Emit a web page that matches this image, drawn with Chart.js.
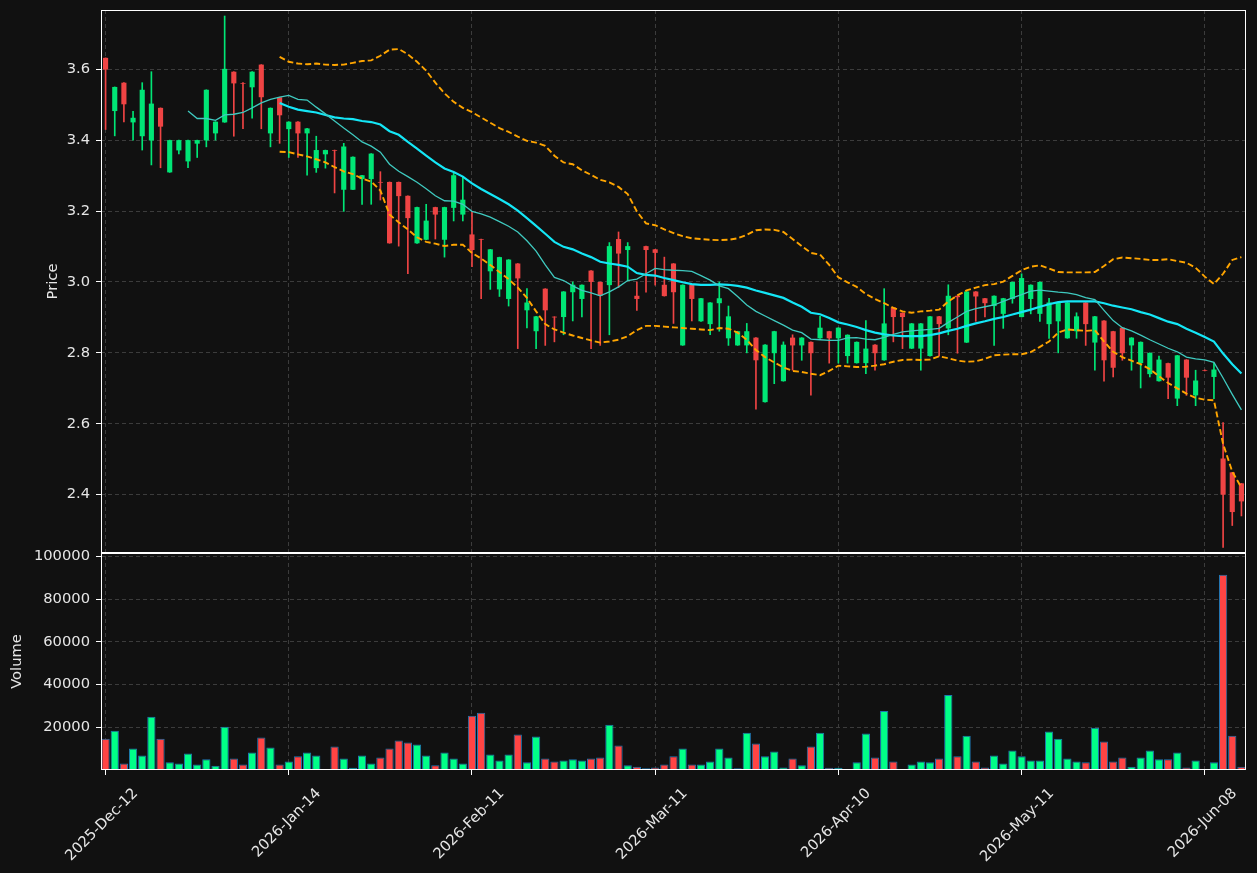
<!DOCTYPE html>
<html>
<head>
<meta charset="utf-8">
<script src="https://cdn.jsdelivr.net/npm/chart.js@4/dist/chart.umd.min.js"></script>
<style>
html,body{margin:0;padding:0;background:#111111;}
#wrap{width:1257px;height:873px;}
canvas{display:block;}
</style>
</head>
<body>
<div id="wrap"><canvas id="c" width="1257" height="873"></canvas></div>
<script>
// ---------- categories ----------
const dates = [
'2025-Dec-12','2025-Dec-15','2025-Dec-16','2025-Dec-17','2025-Dec-18','2025-Dec-19','2025-Dec-22','2025-Dec-23','2025-Dec-24','2025-Dec-29',
'2025-Dec-30','2025-Dec-31','2026-Jan-02','2026-Jan-05','2026-Jan-06','2026-Jan-07','2026-Jan-08','2026-Jan-09','2026-Jan-12','2026-Jan-13',
'2026-Jan-14','2026-Jan-15','2026-Jan-16','2026-Jan-19','2026-Jan-20','2026-Jan-21','2026-Jan-22','2026-Jan-23','2026-Jan-26','2026-Jan-27',
'2026-Jan-28','2026-Jan-29','2026-Jan-30','2026-Feb-02','2026-Feb-03','2026-Feb-04','2026-Feb-05','2026-Feb-06','2026-Feb-09','2026-Feb-10',
'2026-Feb-11','2026-Feb-12','2026-Feb-13','2026-Feb-16','2026-Feb-17','2026-Feb-18','2026-Feb-19','2026-Feb-20','2026-Feb-23','2026-Feb-24',
'2026-Feb-25','2026-Feb-26','2026-Feb-27','2026-Mar-02','2026-Mar-03','2026-Mar-04','2026-Mar-05','2026-Mar-06','2026-Mar-09','2026-Mar-10',
'2026-Mar-11','2026-Mar-12','2026-Mar-13','2026-Mar-16','2026-Mar-17','2026-Mar-18','2026-Mar-19','2026-Mar-20','2026-Mar-23','2026-Mar-24',
'2026-Mar-25','2026-Mar-26','2026-Mar-27','2026-Mar-30','2026-Mar-31','2026-Apr-01','2026-Apr-02','2026-Apr-07','2026-Apr-08','2026-Apr-09',
'2026-Apr-10','2026-Apr-13','2026-Apr-14','2026-Apr-15','2026-Apr-16','2026-Apr-17','2026-Apr-20','2026-Apr-21','2026-Apr-22','2026-Apr-23',
'2026-Apr-24','2026-Apr-27','2026-Apr-28','2026-Apr-29','2026-Apr-30','2026-May-04','2026-May-05','2026-May-06','2026-May-07','2026-May-08',
'2026-May-11','2026-May-12','2026-May-13','2026-May-14','2026-May-15','2026-May-18','2026-May-19','2026-May-20','2026-May-21','2026-May-22',
'2026-May-25','2026-May-26','2026-May-27','2026-May-28','2026-May-29','2026-Jun-01','2026-Jun-02','2026-Jun-03','2026-Jun-04','2026-Jun-05',
'2026-Jun-08','2026-Jun-09','2026-Jun-10','2026-Jun-11','2026-Jun-12'
];
const tickDates = ['2025-Dec-12','2026-Jan-14','2026-Feb-11','2026-Mar-11','2026-Apr-10','2026-May-11','2026-Jun-08'];
const priceTicks = [2.4, 2.6, 2.8, 3.0, 3.2, 3.4, 3.6];
const volumeTicks = [20000, 40000, 60000, 80000, 100000];

// ---------- price series ----------
const opens = [
3.632,3.482,3.562,3.450,3.411,3.399,3.491,3.309,3.371,3.340,
3.390,3.399,3.419,3.450,3.593,3.561,3.549,3.613,3.419,3.521,
3.431,3.452,3.419,3.321,3.360,3.372,3.260,3.260,3.290,3.290,
3.282,3.282,3.282,3.243,3.109,3.119,3.211,3.119,3.209,3.190,
3.134,3.121,3.030,2.979,2.952,3.052,2.920,2.861,2.981,2.902,
2.901,2.971,2.952,3.032,3.000,2.991,3.121,3.090,2.961,3.101,
3.092,2.992,3.052,2.821,2.992,2.889,2.881,2.940,2.841,2.821,
2.821,2.843,2.661,2.799,2.720,2.843,2.821,2.831,2.841,2.861,
2.841,2.791,2.771,2.771,2.823,2.779,2.928,2.913,2.812,2.812,
2.791,2.903,2.869,2.961,2.829,2.973,2.954,2.932,2.910,2.952,
2.901,2.952,2.910,2.881,2.889,2.841,2.861,2.942,2.829,2.891,
2.861,2.871,2.821,2.771,2.740,2.720,2.771,2.671,2.781,2.680,
2.751,2.732,2.502,2.463,2.432
];
const highs = [
3.632,3.550,3.562,3.481,3.562,3.593,3.491,3.400,3.400,3.400,
3.400,3.542,3.452,3.750,3.593,3.562,3.593,3.613,3.491,3.521,
3.452,3.452,3.433,3.411,3.372,3.372,3.391,3.353,3.301,3.362,
3.311,3.282,3.282,3.243,3.211,3.219,3.211,3.211,3.307,3.297,
3.199,3.121,3.092,3.070,3.063,3.052,2.981,2.903,2.981,2.902,
2.973,3.000,2.992,3.032,3.000,3.111,3.141,3.111,3.000,3.101,
3.092,3.070,3.052,2.992,2.992,2.954,2.942,3.000,2.932,2.861,
2.883,2.843,2.823,2.861,2.831,2.851,2.843,2.831,2.903,2.861,
2.871,2.851,2.831,2.891,2.823,2.981,2.928,2.913,2.883,2.883,
2.903,2.903,2.992,2.961,2.973,2.973,2.954,2.961,2.954,3.000,
3.023,2.992,3.000,2.954,2.942,2.942,2.913,2.942,2.903,2.891,
2.861,2.871,2.843,2.831,2.800,2.791,2.771,2.793,2.781,2.751,
2.752,2.771,2.603,2.463,2.432
];
const lows = [
3.430,3.412,3.451,3.400,3.372,3.330,3.322,3.309,3.361,3.322,
3.351,3.381,3.400,3.450,3.411,3.432,3.462,3.432,3.381,3.391,
3.351,3.351,3.301,3.309,3.321,3.251,3.199,3.260,3.219,3.219,
3.231,3.109,3.101,3.023,3.109,3.119,3.121,3.070,3.172,3.172,
3.043,2.953,2.979,2.959,2.932,2.812,2.870,2.812,2.821,2.831,
2.851,2.890,2.901,2.812,2.821,2.851,2.984,3.003,2.920,2.971,
2.991,2.960,2.883,2.821,2.890,2.889,2.851,2.861,2.821,2.821,
2.800,2.641,2.661,2.713,2.720,2.751,2.779,2.681,2.841,2.771,
2.771,2.771,2.771,2.741,2.751,2.779,2.831,2.812,2.812,2.751,
2.791,2.791,2.851,2.799,2.829,2.889,2.901,2.821,2.869,2.940,
2.901,2.910,2.889,2.841,2.800,2.841,2.841,2.821,2.751,2.720,
2.732,2.779,2.751,2.701,2.732,2.720,2.671,2.651,2.680,2.651,
2.749,2.671,2.251,2.313,2.340
];
const closes = [
3.599,3.550,3.501,3.463,3.542,3.503,3.438,3.400,3.400,3.400,
3.400,3.542,3.452,3.601,3.560,3.559,3.593,3.521,3.491,3.470,
3.452,3.419,3.433,3.372,3.372,3.370,3.382,3.353,3.301,3.362,
3.280,3.109,3.242,3.180,3.211,3.173,3.190,3.211,3.301,3.232,
3.090,3.119,3.092,3.070,3.063,3.010,2.942,2.903,2.920,2.900,
2.973,2.992,2.992,3.000,2.961,3.101,3.080,3.101,2.952,3.090,
3.082,2.960,2.971,2.992,2.952,2.954,2.942,2.954,2.903,2.861,
2.861,2.779,2.823,2.861,2.823,2.821,2.843,2.799,2.871,2.841,
2.871,2.851,2.831,2.812,2.799,2.883,2.901,2.901,2.883,2.883,
2.903,2.881,2.961,2.957,2.973,2.959,2.940,2.961,2.954,3.000,
3.011,2.992,3.000,2.942,2.942,2.942,2.903,2.881,2.903,2.779,
2.758,2.799,2.843,2.831,2.800,2.781,2.730,2.793,2.730,2.722,
2.749,2.753,2.400,2.351,2.381
];
const volumes = [
14700,18400,3100,10100,6800,25000,14700,3600,3100,7700,
2600,5000,2000,20300,5400,2600,8200,15200,10500,2600,
4000,6400,8200,6800,0,11000,5400,1100,6800,3100,
5900,10100,13800,12900,11900,6800,2200,8200,5400,3100,
25400,26800,7300,4500,7300,16600,3600,15700,5400,4000,
4500,5000,4500,5400,5900,21200,11500,2200,1500,800,
1200,2600,6400,10100,2600,2600,4000,10100,5900,800,
17500,12400,6400,8700,1200,5400,2200,11000,17500,1100,
1100,500,3600,17100,5900,27700,4000,300,2600,4000,
3600,5400,35200,6400,16100,4000,1200,6800,3100,9100,
6400,4500,4500,18000,14700,5400,4000,3600,19800,13300,
4000,5900,1500,5900,9100,5000,5000,8200,1200,4500,
0,3600,91500,16100,1500
];

// ---------- indicator lines ----------
const ma10 = [
null,null,null,null,null,null,null,null,null,
3.482,3.461,3.461,3.456,3.471,3.473,3.478,3.491,3.505,3.515,
3.521,3.526,3.515,3.513,3.493,3.474,3.454,3.434,3.415,3.395,
3.383,3.366,3.332,3.312,3.297,3.281,3.263,3.243,3.229,3.228,
3.219,3.199,3.192,3.183,3.170,3.157,3.141,3.116,3.087,3.048,
3.013,3.004,2.989,2.976,2.969,2.961,2.972,2.986,3.004,3.008,
3.023,3.038,3.035,3.033,3.032,3.030,3.018,3.005,2.989,2.981,
2.959,2.935,2.917,2.904,2.891,2.878,2.864,2.857,2.839,2.837,
2.835,2.835,2.842,2.843,2.839,2.837,2.844,2.852,2.859,2.862,
2.864,2.866,2.869,2.886,2.901,2.917,2.925,2.930,2.935,2.945,
2.955,2.964,2.974,2.977,2.974,2.971,2.969,2.964,2.956,2.950,
2.920,2.891,2.871,2.862,2.850,2.837,2.825,2.813,2.803,2.788,
2.783,2.780,2.773,2.729,2.683,2.639
];
const ma20 = [
null,null,null,null,null,null,null,null,null,null,
null,null,null,null,null,null,null,null,null,
3.505,3.494,3.486,3.482,3.478,3.471,3.464,3.461,3.459,3.454,
3.451,3.444,3.425,3.415,3.395,3.376,3.356,3.337,3.320,3.310,
3.297,3.278,3.262,3.248,3.234,3.219,3.201,3.180,3.158,3.136,
3.113,3.099,3.092,3.080,3.070,3.057,3.052,3.048,3.043,3.025,
3.020,3.018,3.011,3.005,2.999,2.994,2.992,2.992,2.993,2.992,
2.989,2.984,2.976,2.969,2.962,2.955,2.942,2.930,2.913,2.909,
2.898,2.886,2.880,2.873,2.864,2.857,2.852,2.849,2.847,2.847,
2.847,2.850,2.855,2.862,2.868,2.876,2.883,2.889,2.896,2.901,
2.908,2.915,2.922,2.930,2.937,2.943,2.945,2.945,2.945,2.945,
2.940,2.933,2.928,2.923,2.915,2.908,2.898,2.888,2.881,2.868,
2.857,2.845,2.832,2.798,2.768,2.742
];
const bbUpper = [
null,null,null,null,null,null,null,null,null,null,
null,null,null,null,null,null,null,null,null,
3.635,3.621,3.616,3.614,3.616,3.613,3.612,3.613,3.618,3.623,
3.625,3.638,3.655,3.657,3.642,3.621,3.596,3.562,3.532,3.508,
3.491,3.479,3.464,3.449,3.434,3.423,3.410,3.398,3.393,3.384,
3.356,3.337,3.332,3.315,3.302,3.288,3.281,3.268,3.248,3.199,
3.165,3.160,3.148,3.138,3.129,3.123,3.121,3.119,3.118,3.119,
3.123,3.133,3.146,3.148,3.147,3.141,3.121,3.101,3.082,3.077,
3.048,3.013,2.999,2.986,2.966,2.952,2.940,2.927,2.917,2.913,
2.917,2.919,2.922,2.945,2.962,2.976,2.984,2.991,2.994,3.001,
3.017,3.033,3.043,3.047,3.038,3.028,3.027,3.027,3.027,3.028,
3.045,3.064,3.069,3.067,3.065,3.062,3.062,3.064,3.059,3.054,
3.040,3.015,2.994,3.023,3.062,3.070
];
const bbLower = [
null,null,null,null,null,null,null,null,null,null,
null,null,null,null,null,null,null,null,null,
3.367,3.366,3.360,3.354,3.346,3.337,3.324,3.312,3.304,3.292,
3.283,3.258,3.190,3.168,3.148,3.126,3.113,3.108,3.101,3.105,
3.105,3.082,3.066,3.048,3.028,3.008,2.984,2.955,2.917,2.881,
2.866,2.857,2.849,2.842,2.835,2.829,2.832,2.837,2.847,2.864,
2.876,2.876,2.874,2.872,2.870,2.868,2.866,2.864,2.870,2.868,
2.857,2.837,2.808,2.788,2.773,2.759,2.749,2.746,2.741,2.737,
2.749,2.764,2.762,2.760,2.761,2.764,2.768,2.775,2.780,2.781,
2.780,2.781,2.790,2.785,2.778,2.775,2.776,2.783,2.793,2.795,
2.796,2.796,2.802,2.817,2.832,2.857,2.866,2.864,2.862,2.864,
2.832,2.803,2.788,2.778,2.768,2.754,2.734,2.715,2.700,2.685,
2.673,2.668,2.666,2.543,2.465,2.420
];

// ---------- styling ----------
const TXT = '#e6e6e6';
const GRID = '#3c3c3c';
const UP = '#00e676', DOWN = '#ef4444';
const VUP = '#00ff88', VDOWN = '#ff4444';
const FONT = {family: 'DejaVu Sans', size: 14.7};

const up = closes.map((c, i) => c >= opens[i]);
const candleColors = up.map(u => u ? UP : DOWN);
const volColors = up.map(u => u ? VUP : VDOWN);
const bodies = opens.map((o, i) => [o, closes[i]]);
const wicks = lows.map((l, i) => [l, highs[i]]);

const framePlugin = {
  id: 'frame',
  afterDraw(chart) {
    const {ctx, chartArea: a, scales} = chart;
    ctx.save();
    ctx.strokeStyle = '#ffffff';
    ctx.lineWidth = 1;
    [scales.y, scales.yv].forEach(s => {
      ctx.strokeRect(Math.round(a.left) + 0.5, Math.round(s.top) + 0.5,
        Math.round(a.right - a.left) - 1, Math.round(s.bottom - s.top) - 1);
    });
    ctx.restore();
  }
};

function noPad(s) { s.paddingTop = 0; s.paddingBottom = 0; }

new Chart(document.getElementById('c'), {
  type: 'bar',
  data: {
    labels: dates,
    datasets: [
      {type: 'line', label: 'MA10', data: ma10, yAxisID: 'y', borderColor: '#3fc9bf', borderWidth: 1.3, pointRadius: 0, order: 0},
      {type: 'line', label: 'MA20', data: ma20, yAxisID: 'y', borderColor: '#14e6f6', borderWidth: 2.2, pointRadius: 0, order: 0},
      {type: 'line', label: 'BB upper', data: bbUpper, yAxisID: 'y', borderColor: '#ffa500', borderWidth: 1.9, borderDash: [6, 3], pointRadius: 0, order: 0},
      {type: 'line', label: 'BB lower', data: bbLower, yAxisID: 'y', borderColor: '#ffa500', borderWidth: 1.9, borderDash: [6, 3], pointRadius: 0, order: 0},
      {label: 'Body', data: bodies, yAxisID: 'y', backgroundColor: candleColors, grouped: false,
        barPercentage: 0.56, categoryPercentage: 1, borderWidth: 0, order: 1},
      {label: 'Wick', data: wicks, yAxisID: 'y', backgroundColor: candleColors, grouped: false,
        barThickness: 1, borderWidth: 0, order: 2},
      {label: 'Volume', data: volumes, yAxisID: 'yv', backgroundColor: volColors, grouped: false,
        borderColor: '#1f77b4', borderWidth: 1, borderSkipped: false,
        barPercentage: 0.9, categoryPercentage: 1, order: 3}
    ]
  },
  options: {
    responsive: false,
    animation: false,
    devicePixelRatio: 1,
    layout: {padding: {left: 0, top: 10, right: 11, bottom: 0}},
    plugins: {legend: {display: false}, tooltip: {enabled: false}},
    scales: {
      x: {
        type: 'category',
        offset: true,
        grid: {color: GRID, offset: false, lineWidth: 1, tickLength: 5, tickColor: '#ffffff', tickWidth: 1},
        border: {display: false, dash: [4, 3]},
        ticks: {
          autoSkip: false, minRotation: 45, maxRotation: 45, color: TXT, font: FONT,
          padding: 10, labelOffset: 30,
          callback: function(v, i) { const l = dates[i]; return tickDates.includes(l) ? l : null; }
        },
        afterFit(s) { s.height = 103; s.paddingLeft = 0; s.paddingRight = 0; }
      },
      yv: {
        type: 'linear', position: 'left', stack: 'panels', stackWeight: 217,
        min: 0, max: 101700,
        grid: {color: GRID, lineWidth: 1, tickLength: 5, tickColor: '#ffffff', tickWidth: 1},
        border: {display: false, dash: [4, 3]},
        ticks: {color: TXT, font: FONT, padding: 6, callback: v => String(v)},
        afterBuildTicks(s) { s.ticks = volumeTicks.map(v => ({value: v})); },
        title: {display: true, text: 'Volume', color: TXT, font: FONT, padding: {top: 8, bottom: 0}},
        afterFit(s) { s.width = 101; noPad(s); }
      },
      y: {
        type: 'linear', position: 'left', stack: 'panels', stackWeight: 543,
        min: 2.2355, max: 3.767,
        grid: {color: GRID, lineWidth: 1, tickLength: 5, tickColor: '#ffffff', tickWidth: 1},
        border: {display: false, dash: [4, 3]},
        ticks: {color: TXT, font: FONT, padding: 6, callback: v => Number(v).toFixed(1)},
        afterBuildTicks(s) { s.ticks = priceTicks.map(v => ({value: v})); },
        title: {display: true, text: 'Price', color: TXT, font: FONT, padding: {top: 44, bottom: 0}},
        afterFit(s) { s.width = 101; noPad(s); }
      }
    }
  },
  plugins: [framePlugin]
});
</script>
</body>
</html>
